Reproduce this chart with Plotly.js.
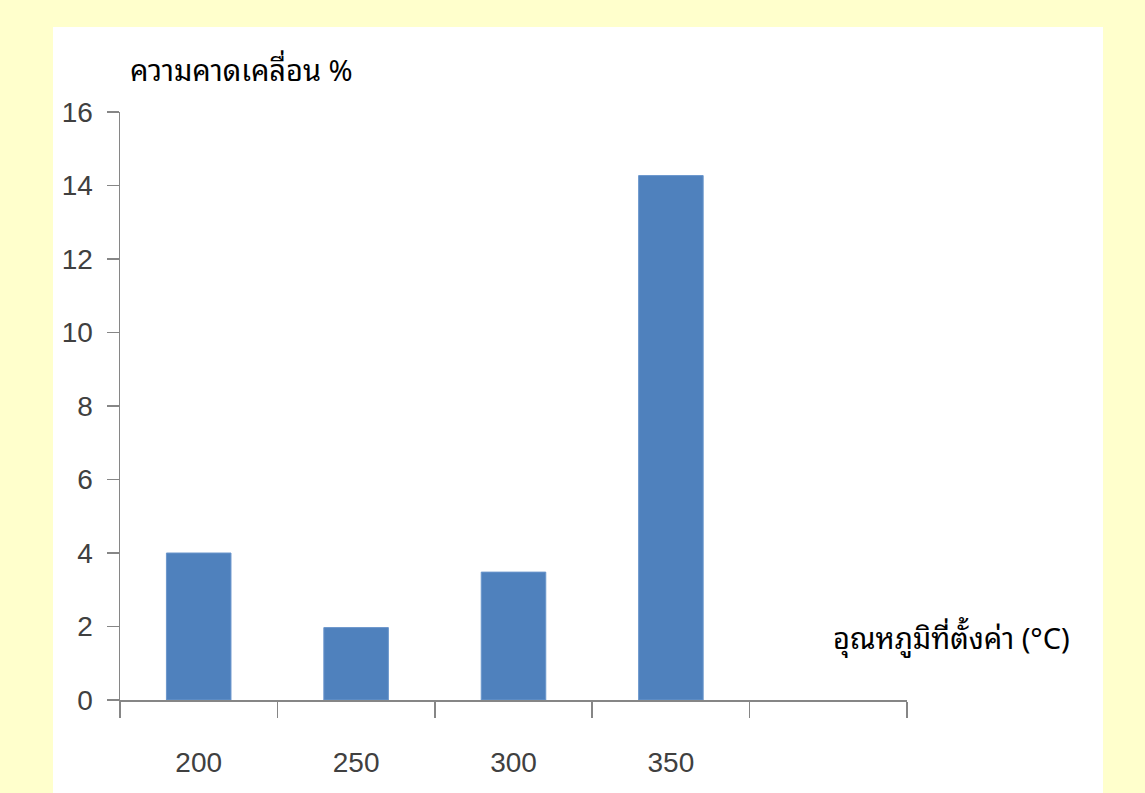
<!DOCTYPE html>
<html>
<head>
<meta charset="utf-8">
<script src="https://cdn.plot.ly/plotly-3.0.1.min.js"></script>
<style>html,body{margin:0;padding:0;background:#FFFFCC;}</style>
</head>
<body>
<div id="chart" style="width:1145px;height:793px;"></div>
<script>
const categories = ['200', '250', '300', '350', ' '];
const deviationPct = [4.0, 1.97, 3.48, 14.27, null];
const yTickVals = [0, 2, 4, 6, 8, 10, 12, 14, 16];
const yTitleText = 'ความคาดเคลื่อน %';
const xTitleText = 'อุณหภูมิที่ตั้งค่า (°C)';

const W = 1145, H = 793;
const L = 120, R = 1145 - 907, T = 112, B = 793 - 700;
const pw = W - L - R, ph = H - T - B;
const px = v => (v - L) / pw;
const py = v => (H - B - v) / ph;

const tickFont = {family: 'Liberation Sans Narrow, Arial Narrow, Liberation Sans, sans-serif', size: 28, color: '#404040'};
const titleFont = {family: 'Noto Sans Thai Looped, Tahoma, Noto Sans Thai, Noto Sans, sans-serif', size: 29, color: '#000000'};

const trace = {
  type: 'bar',
  x: categories,
  y: deviationPct,
  marker: {color: '#4F81BD', line: {color: '#6A96CC', width: 1}},
  hoverinfo: 'x+y'
};

const layout = {
  width: W, height: H,
  paper_bgcolor: '#FFFFCC',
  plot_bgcolor: 'rgba(0,0,0,0)',
  margin: {l: L, r: R, t: T, b: B, pad: 0},
  showlegend: false,
  bargap: 0.59,
  shapes: [{
    type: 'rect', xref: 'paper', yref: 'paper', layer: 'below',
    x0: px(53), x1: px(1103), y0: py(793), y1: py(27),
    fillcolor: '#FFFFFF', line: {width: 0}
  }],
  xaxis: {
    type: 'category',
    categoryorder: 'array', categoryarray: categories,
    range: [-0.5, 4.5],
    tickson: 'boundaries',
    ticks: 'outside', ticklen: 16, tickwidth: 1.5, tickcolor: '#868686',
    showline: true, linecolor: '#868686', linewidth: 1.5,
    showgrid: false, zeroline: false,
    tickfont: tickFont,
    ticklabelstandoff: 37,
    fixedrange: true
  },
  yaxis: {
    range: [0, 16],
    tickvals: yTickVals,
    ticks: 'outside', ticklen: 12, tickwidth: 1.5, tickcolor: '#868686',
    showline: true, linecolor: '#868686', linewidth: 1.5,
    showgrid: false, zeroline: false,
    tickfont: tickFont,
    ticklabelstandoff: 8,
    fixedrange: true
  },
  annotations: [
    {text: yTitleText, xref: 'paper', yref: 'paper', x: px(128), y: py(68),
     xanchor: 'left', yanchor: 'middle', showarrow: false, font: titleFont},
    {text: xTitleText, xref: 'paper', yref: 'paper', x: px(831), y: py(636),
     xanchor: 'left', yanchor: 'middle', showarrow: false, font: titleFont}
  ]
};

Plotly.newPlot('chart', [trace], layout, {displayModeBar: false, staticPlot: true});
</script>
</body>
</html>
